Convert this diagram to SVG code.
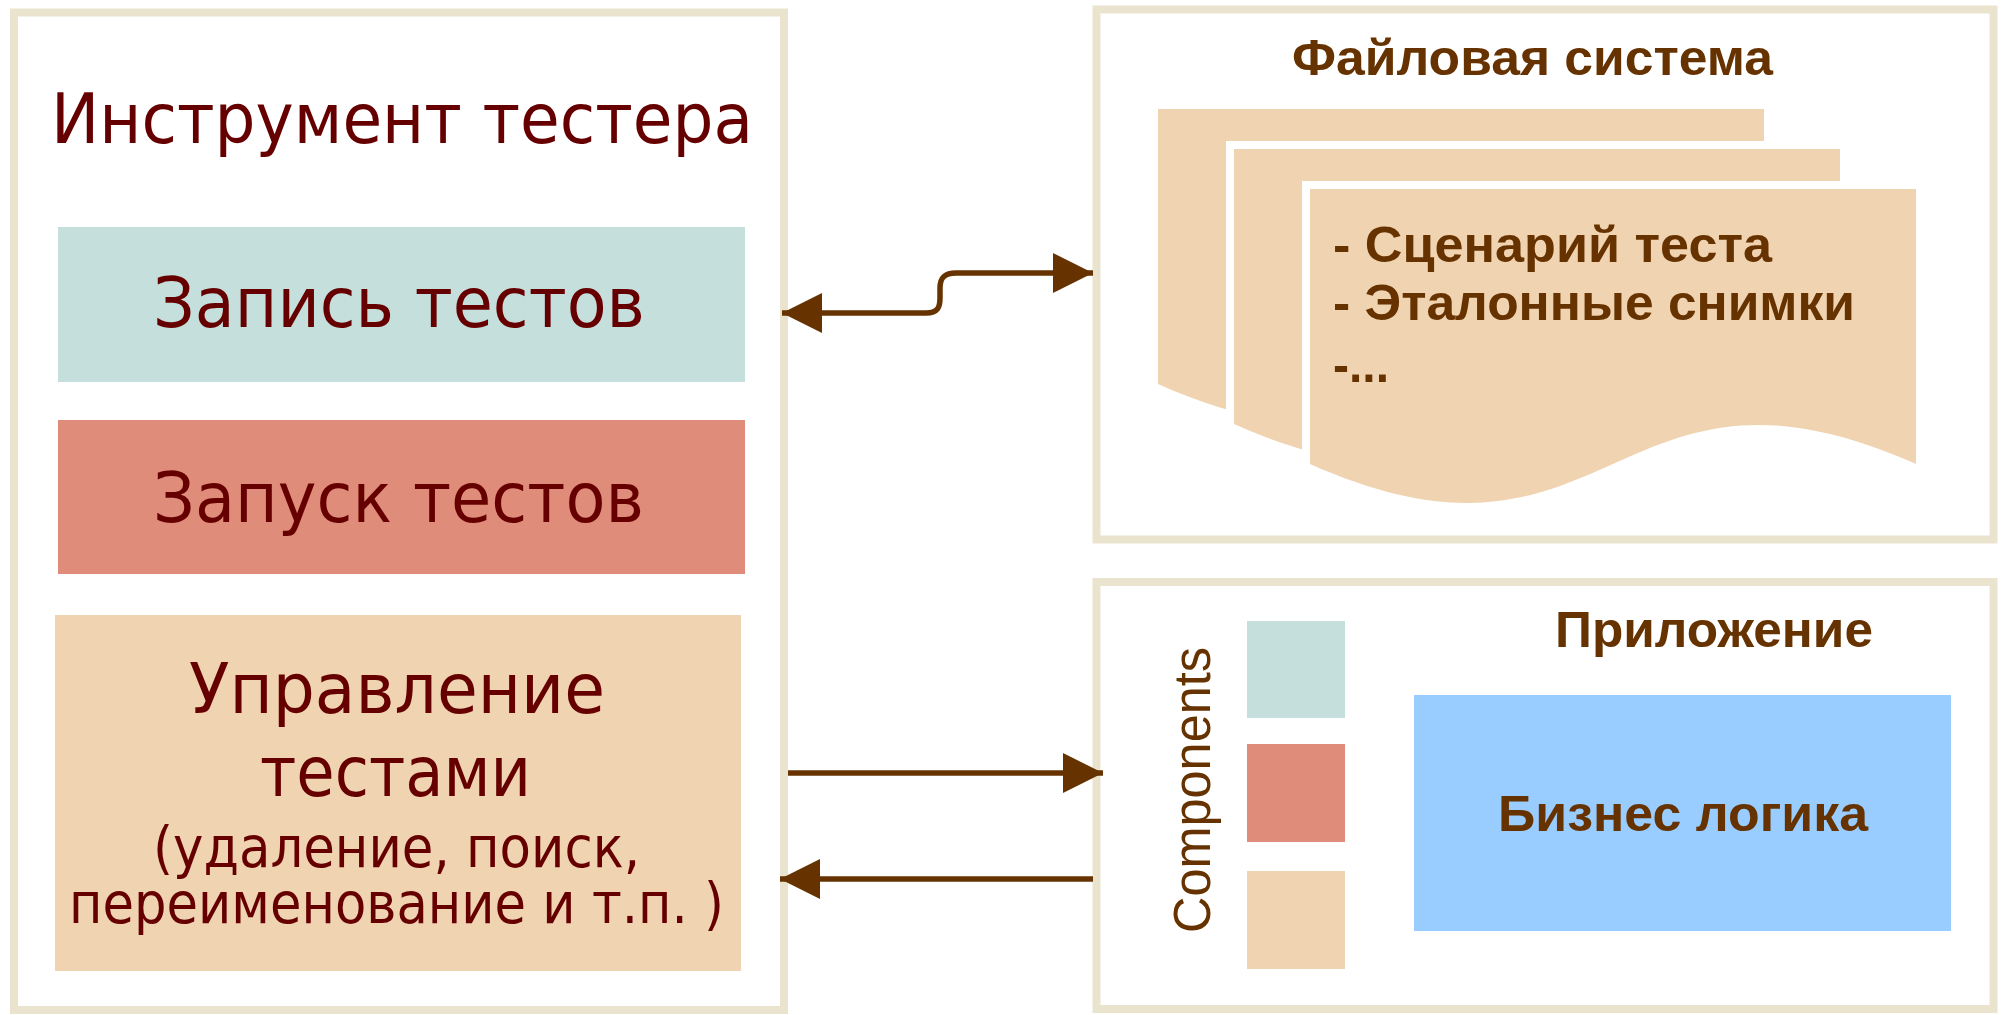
<svg xmlns="http://www.w3.org/2000/svg" width="2002" height="1015" viewBox="0 0 2002 1015">
  <defs>
    <style>
      .frame { fill: #ffffff; stroke: #EAE4CF; stroke-width: 8; }
      .teal { fill: #C4DFDC; }
      .red { fill: #E08C7A; }
      .peach { fill: #F0D3B0; }
      .blue { fill: #99CCFF; }
      .doc { fill: #F0D3B0; }
      .doc-front { fill: #F0D3B0; stroke: #ffffff; stroke-width: 16; paint-order: stroke; }
      .lt { font-family: "DejaVu Sans", "Liberation Sans", sans-serif; fill: #660000; }
      .big { font-size: 70px; }
      .small { font-size: 57px; }
      .rt { font-family: "Liberation Sans", Arial, sans-serif; font-weight: bold; fill: #663300; font-size: 50px; }
      .comp { font-family: "Liberation Sans", Arial, sans-serif; fill: #663300; font-size: 51px; }
      .conn { fill: none; stroke: #663300; stroke-width: 5.5; }
    </style>
    <marker id="arrow" viewBox="0 0 40 40" refX="40" refY="20" markerWidth="40" markerHeight="40" markerUnits="userSpaceOnUse" orient="auto-start-reverse">
      <path d="M0 0 L40 20 L0 40 Z" fill="#663300"/>
    </marker>
  </defs>

  <rect x="0" y="0" width="2002" height="1015" fill="#ffffff"/>

  <g id="tester-tool">
    <rect class="frame" x="14" y="12.5" width="770" height="997.5"/>
    <text class="lt big" x="51" y="143" textLength="702" lengthAdjust="spacingAndGlyphs">Инструмент тестера</text>
  </g>

  <g id="record-tests">
    <rect class="teal" x="58" y="227" width="687" height="155"/>
    <text class="lt big" x="153" y="327" textLength="492" lengthAdjust="spacingAndGlyphs">Запись тестов</text>
  </g>

  <g id="run-tests">
    <rect class="red" x="58" y="420" width="687" height="154"/>
    <text class="lt big" x="153" y="522" textLength="491" lengthAdjust="spacingAndGlyphs">Запуск тестов</text>
  </g>

  <g id="manage-tests">
    <rect class="peach" x="55" y="615" width="686" height="356"/>
    <text class="lt big" x="189" y="713" textLength="416" lengthAdjust="spacingAndGlyphs">Управление</text>
    <text class="lt big" x="260" y="796" textLength="271" lengthAdjust="spacingAndGlyphs">тестами</text>
    <text class="lt small" x="153" y="867" textLength="487" lengthAdjust="spacingAndGlyphs">(удаление, поиск,</text>
    <text class="lt small" x="69" y="923" textLength="655" lengthAdjust="spacingAndGlyphs">переименование и т.п. )</text>
  </g>

  <g id="file-system">
    <rect class="frame" x="1096.5" y="9.5" width="897" height="530"/>
    <text class="rt" x="1292" y="75" textLength="481" lengthAdjust="spacingAndGlyphs">Файловая система</text>
    <path class="doc" d="M1158 109 H1764 V384 C1461 249 1461 519 1158 384 Z"/>
    <path class="doc-front" d="M1234 149 H1840 V424 C1537 289 1537 559 1234 424 Z"/>
    <path class="doc-front" d="M1310 189 H1916 V464 C1613 329 1613 599 1310 464 Z"/>
    <text class="rt" x="1333" y="262" textLength="439" lengthAdjust="spacingAndGlyphs">- Сценарий теста</text>
    <text class="rt" x="1333" y="320" textLength="522" lengthAdjust="spacingAndGlyphs">- Эталонные снимки</text>
    <text class="rt" x="1333" y="382" textLength="56" lengthAdjust="spacingAndGlyphs">-...</text>
  </g>

  <g id="application">
    <rect class="frame" x="1096.5" y="582" width="897" height="427"/>
    <text class="rt" x="1555" y="647" textLength="318" lengthAdjust="spacingAndGlyphs">Приложение</text>
    <text class="comp" transform="translate(1210 933) rotate(-90)" x="0" y="0" textLength="286" lengthAdjust="spacingAndGlyphs">Components</text>
    <rect class="teal" x="1247" y="621" width="98" height="97"/>
    <rect class="red" x="1247" y="744" width="98" height="98"/>
    <rect class="peach" x="1247" y="871" width="98" height="98"/>
  </g>

  <g id="business-logic">
    <rect class="blue" x="1414" y="695" width="537" height="236"/>
    <text class="rt" x="1498" y="831" textLength="370" lengthAdjust="spacingAndGlyphs">Бизнес логика</text>
  </g>

  <g id="connectors">
    <path class="conn" d="M782 313 H926 C938 313 940 307 940 298 V288 C940 278 944 273 956 273 H1093" marker-start="url(#arrow)" marker-end="url(#arrow)"/>
    <path class="conn" d="M788 773 H1103" marker-end="url(#arrow)"/>
    <path class="conn" d="M1093 879 H780" marker-end="url(#arrow)"/>
  </g>
</svg>
